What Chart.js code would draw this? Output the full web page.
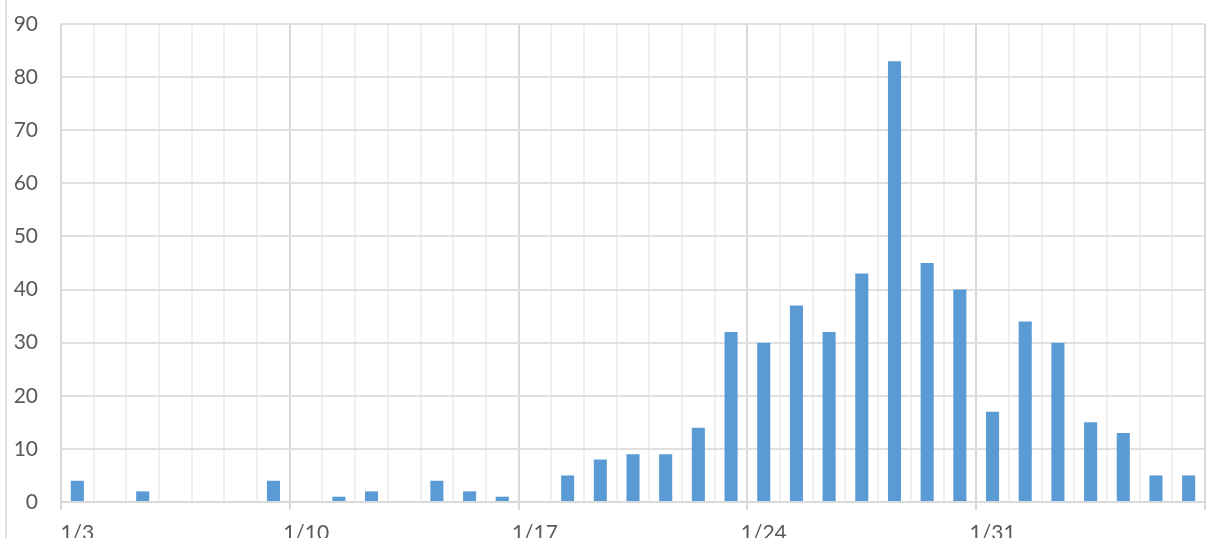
<!DOCTYPE html>
<html lang="en">
<head>
  <meta charset="UTF-8">
  <title>Daily counts</title>
  <script src="https://cdn.jsdelivr.net/npm/chart.js"></script>
  <style>
    body {
      margin: 0;
      background: #fff;
      overflow: hidden;
    }
    .wrap {
      position: relative;
      width: 1208px;
      height: 538px;
      overflow: hidden;
    }
    .edge {
      position: absolute;
      left: 5px;
      top: 0;
      width: 2px;
      height: 538px;
      background: #e0e0e0;
    }
    canvas {
      position: absolute;
      left: 0;
      top: 0;
    }
  </style>
</head>
<body>
  <div class="wrap">
    <div class="edge"></div>
    <canvas id="dailyChart" width="1208" height="560"></canvas>
  </div>

  <script>
    const days = [
      '1/3', '1/4', '1/5', '1/6', '1/7', '1/8', '1/9',
      '1/10', '1/11', '1/12', '1/13', '1/14', '1/15', '1/16',
      '1/17', '1/18', '1/19', '1/20', '1/21', '1/22', '1/23',
      '1/24', '1/25', '1/26', '1/27', '1/28', '1/29', '1/30',
      '1/31', '2/1', '2/2', '2/3', '2/4', '2/5', '2/6'
    ];
    const counts = [
      4, 0, 2, 0, 0, 0, 4,
      0, 1, 2, 0, 4, 2, 1,
      0, 5, 8, 9, 9, 14, 32,
      30, 37, 32, 43, 83, 45, 40,
      17, 34, 30, 15, 13, 5, 5
    ];
    const yTicks = [0, 10, 20, 30, 40, 50, 60, 70, 80, 90];

    const isMajor = ctx => ctx.index === undefined || ctx.index % 7 === 0;

    new Chart(document.getElementById('dailyChart').getContext('2d'), {
      type: 'bar',
      data: {
        labels: days,
        datasets: [{
          data: counts,
          backgroundColor: '#5b9bd5',
          barPercentage: 0.4,
          categoryPercentage: 1
        }]
      },
      options: {
        responsive: false,
        animation: false,
        layout: { padding: { top: 24, right: 3, left: 0, bottom: 0 } },
        plugins: {
          legend: { display: false },
          tooltip: { enabled: false }
        },
        scales: {
          x: {
            offset: true,
            grid: {
              offset: true,
              lineWidth: 2,
              color: ctx => isMajor(ctx) ? '#d9d9d9' : '#f0f0f0',
              tickColor: ctx => isMajor(ctx) ? '#d9d9d9' : 'rgba(0,0,0,0)',
              tickLength: 8
            },
            border: { color: '#d9d9d9', width: 2 },
            ticks: {
              autoSkip: false,
              maxRotation: 0,
              padding: 11,
              color: '#595959',
              font: { family: 'Lato', size: 21 },
              callback: (v, i) => i % 7 === 0 ? days[i] : ''
            },
            afterFit: s => { s.height = 58; }
          },
          y: {
            min: yTicks[0],
            max: yTicks[yTicks.length - 1],
            afterBuildTicks: s => { s.ticks = yTicks.map(v => ({ value: v })); },
            grid: {
              lineWidth: 2,
              color: '#e0e0e0',
              drawTicks: false
            },
            border: { display: false },
            ticks: {
              padding: 23,
              color: '#595959',
              font: { family: 'Lato', size: 21 }
            },
            afterFit: s => {
              s.width = 61;
              s.paddingTop = 0;
              s.paddingBottom = 0;
            }
          }
        }
      }
    });
  </script>
</body>
</html>
